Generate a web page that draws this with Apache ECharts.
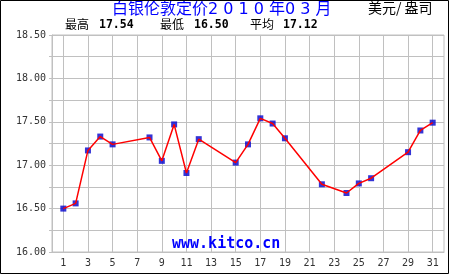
<!DOCTYPE html>
<html>
<head>
<meta charset="utf-8">
<script src="https://cdn.jsdelivr.net/npm/echarts@6/dist/echarts.min.js"></script>
<style>html,body{margin:0;padding:0;background:#fff;}#c{width:450px;height:275px;}</style>
</head>
<body>
<div id="c"></div>
<script>
// Data
const days = [1, 2, 3, 4, 5, 8, 9, 10, 11, 12, 15, 16, 17, 18, 19, 22, 24, 25, 26, 29, 30, 31];
const prices = [16.50, 16.56, 17.17, 17.33, 17.24, 17.32, 17.05, 17.47, 16.91, 17.30, 17.03, 17.24, 17.54, 17.48, 17.31, 16.78, 16.68, 16.79, 16.85, 17.15, 17.40, 17.49];
const xTickLabels = [1, 3, 5, 7, 9, 11, 13, 15, 17, 19, 21, 23, 25, 27, 29, 31];
const yTicks = [16.0, 16.5, 17.0, 17.5, 18.0, 18.5];
const titleText = '白银伦敦定价2 0 1 0 年0 3 月';
const unitText = '美元/ 盎司';
const statLabels = ['最高', '最低', '平均'];
const watermark = 'www.kitco.cn';

const maxV = Math.max(...prices);
const minV = Math.min(...prices);
const avgV = prices.reduce((a, b) => a + b, 0) / prices.length;
const statValues = [maxV, minV, avgV].map(v => v.toFixed(2));

const pts = days.map((d, i) => [d, prices[i]]);
const mono = '"DejaVu Sans Mono", monospace';
const cjk = '"Noto Sans CJK SC", sans-serif';

const chart = echarts.init(document.getElementById('c'), null, {renderer: 'canvas'});
const statX = [[65, 99], [160, 194], [250, 283]];
const graphics = [
  {type: 'rect', shape: {x: 0.5, y: 0.5, width: 448, height: 273}, style: {fill: 'none', stroke: '#000', lineWidth: 1}, z: 100},
  {type: 'text', left: 112, top: 2, style: {text: titleText, fill: '#0000ff', font: '16px "DejaVu Sans", "Noto Sans CJK SC", sans-serif'}},
  {type: 'text', left: 368, top: 1, style: {text: unitText, fill: '#000', font: '14px ' + cjk}},
  {type: 'text', left: 172, top: 237, z: 1, style: {text: watermark, fill: '#0000ff', font: 'bold 15px ' + mono}}
];
statLabels.forEach((s, i) => {
  graphics.push({type: 'text', left: statX[i][0], top: 18, style: {text: s, fill: '#000', font: '12px ' + cjk}});
  graphics.push({type: 'text', left: statX[i][1], top: 19, style: {text: statValues[i], fill: '#000', font: 'bold 11.5px ' + mono}});
});

chart.setOption({
  animation: false,
  backgroundColor: '#fff',
  grid: {left: 52, top: 35, right: 6, bottom: 23, show: true, borderColor: '#c0c0c0', borderWidth: 1},
  xAxis: {
    type: 'value', min: 0.08, max: 31.92,
    axisLine: {show: true, lineStyle: {color: '#c0c0c0'}},
    axisTick: {show: false, customValues: xTickLabels},
    axisLabel: {customValues: xTickLabels, color: '#333', fontFamily: mono, fontSize: 10, margin: 6},
    splitLine: {show: true, lineStyle: {color: '#c0c0c0', width: 1}}
  },
  yAxis: {
    type: 'value', min: yTicks[0], max: yTicks[yTicks.length - 1], interval: 0.5,
    axisLine: {show: true, lineStyle: {color: '#c0c0c0'}},
    axisTick: {show: true, length: 3, lineStyle: {color: '#c0c0c0'}},
    minorTick: {show: true, splitNumber: 2, length: 3, lineStyle: {color: '#c0c0c0'}},
    axisLabel: {formatter: v => v.toFixed(2), color: '#333', fontFamily: mono, fontSize: 10, margin: 6},
    splitLine: {show: true, lineStyle: {color: '#c0c0c0'}},
    minorSplitLine: {show: true, lineStyle: {color: '#c0c0c0'}}
  },
  graphic: graphics,
  series: [
    {type: 'scatter', data: pts, symbol: 'rect', symbolSize: 6, itemStyle: {color: '#0000cc'}, z: 2},
    {type: 'line', data: pts, showSymbol: false, lineStyle: {color: '#ff0000', width: 1.5}, z: 3}
  ]
});
</script>
</body>
</html>
